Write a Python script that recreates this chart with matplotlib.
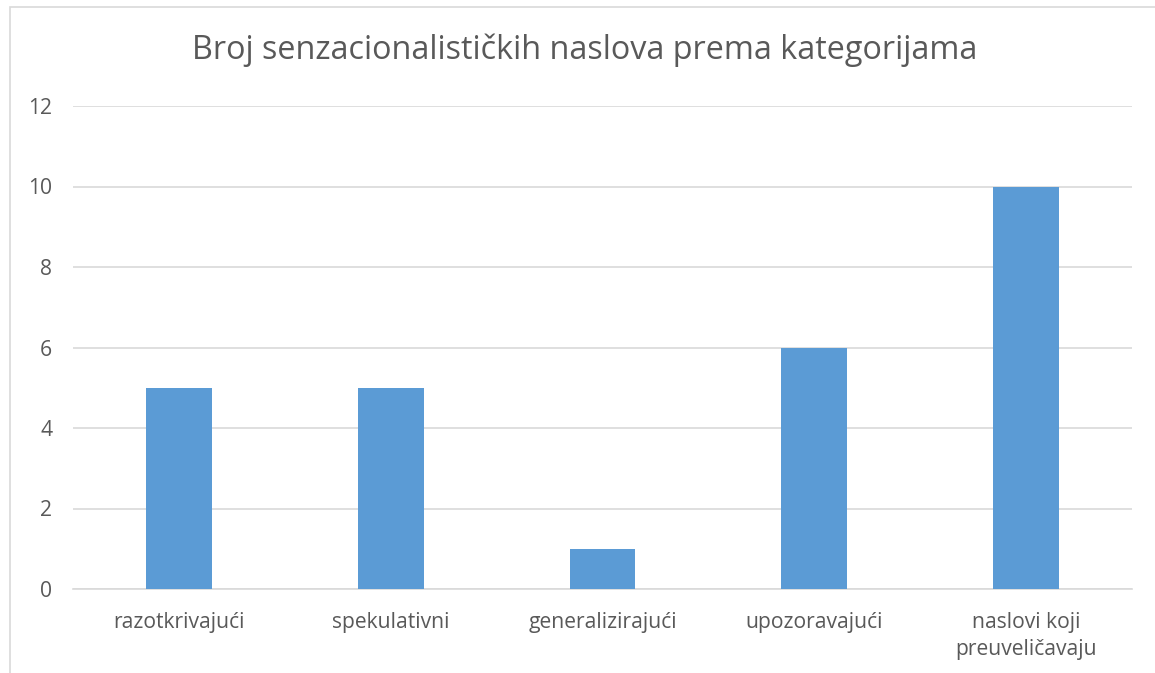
import matplotlib
matplotlib.use("Agg")
import matplotlib.pyplot as plt
from matplotlib.patches import Rectangle

categories = ["razotkrivajući", "spekulativni", "generalizirajući",
              "upozoravajući", "naslovi koji\npreuveličavaju"]
values = [5, 5, 1, 6, 10]
yticks = [0, 2, 4, 6, 8, 10, 12]
title = "Broj senzacionalističkih naslova prema kategorijama"

plt.rcParams['font.family'] = ['Open Sans', 'DejaVu Sans']
text_col = '#595959'
grid_col = '#D9D9D9'

fig = plt.figure(figsize=(11.55, 6.73), dpi=100)
fig.patch.set_facecolor('white')

# chart border (clipped by the image on the right and bottom)
fig.patches.append(Rectangle((10 / 1155, -0.1), 1.2, 1 - 7 / 673 + 0.1,
                             transform=fig.transFigure, fill=False,
                             edgecolor=grid_col, linewidth=1.2))

ax = fig.add_axes([73 / 1155, 1 - 589 / 673, (1132 - 73) / 1155, (589 - 106) / 673])
x = range(len(categories))
ax.bar(x, values, width=0.31, color='#5B9BD5', zorder=3)

ax.set_xlim(-0.5, len(categories) - 0.5)
ax.set_ylim(0, 12)
ax.set_yticks(yticks)
ax.set_xticks(list(x))
ax.set_xticklabels(categories, fontsize=15.2, color=text_col, linespacing=1.35)
ax.tick_params(axis='y', labelsize=15.2, labelcolor=text_col, length=0, pad=15)
ax.tick_params(axis='x', length=0, pad=16.5)
ax.yaxis.grid(True, color=grid_col, linewidth=1.2, zorder=0)
for s in ['top', 'right', 'left']:
    ax.spines[s].set_visible(False)
ax.spines['bottom'].set_color(grid_col)
ax.spines['bottom'].set_linewidth(1.2)

fig.text(585 / 1155, 1 - 50 / 673, title, ha='center', va='center',
         fontsize=23.3, color=text_col)

fig.savefig('out.png', dpi=100)
